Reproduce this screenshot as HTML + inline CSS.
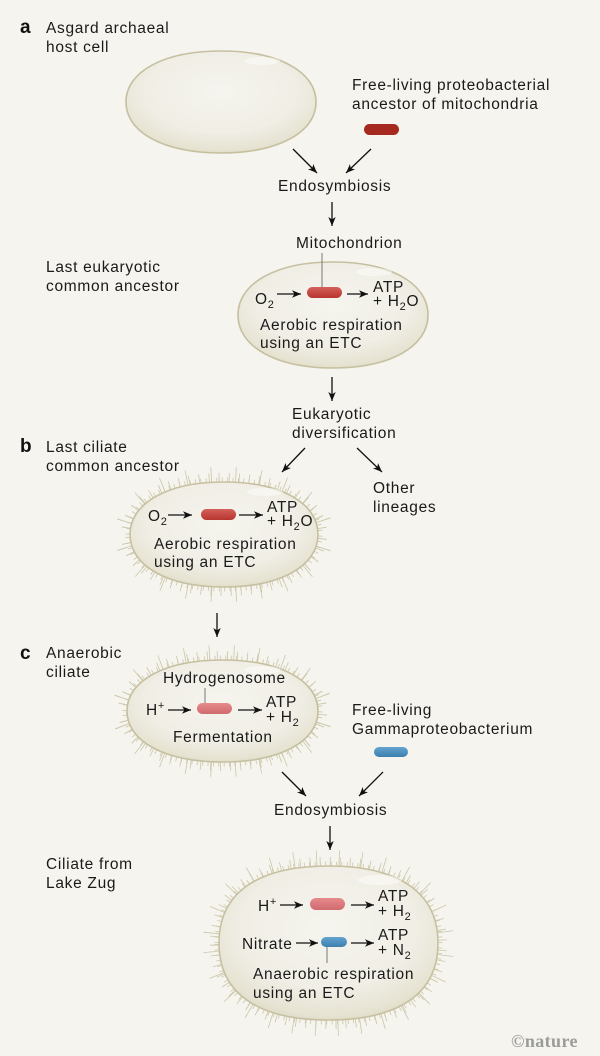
<!DOCTYPE html>
<html><head><meta charset="utf-8"><style>
html,body{margin:0;padding:0;background:#f5f4ee;}
svg{display:block;}
text{font-family:"Liberation Sans",sans-serif;font-size:15.5px;letter-spacing:0.7px;fill:#1a1a1a;}
.lbl{font-weight:bold;font-size:19px;letter-spacing:0;fill:#111;}
</style></head><body>
<svg width="600" height="1056" viewBox="0 0 600 1056" xmlns="http://www.w3.org/2000/svg">
<defs>
  <marker id="ah" markerUnits="userSpaceOnUse" markerWidth="10" markerHeight="9" refX="9" refY="4.5" orient="auto">
    <path d="M0,0.8 L9,4.5 L0,8.2 L2.4,4.5 Z" fill="#111"/>
  </marker>
  <radialGradient id="body" cx="50%" cy="40%" r="62%">
    <stop offset="0" stop-color="#f5f4ee"/>
    <stop offset="0.65" stop-color="#f0eee5"/>
    <stop offset="0.92" stop-color="#e6e3d2"/>
    <stop offset="1" stop-color="#dedac5"/>
  </radialGradient>
  <linearGradient id="red" x1="0" y1="0" x2="0" y2="1">
    <stop offset="0" stop-color="#d4605a"/><stop offset="1" stop-color="#b8352f"/>
  </linearGradient>
  <linearGradient id="pink" x1="0" y1="0" x2="0" y2="1">
    <stop offset="0" stop-color="#e68a8c"/><stop offset="1" stop-color="#d06a6f"/>
  </linearGradient>
  <linearGradient id="blue" x1="0" y1="0" x2="0" y2="1">
    <stop offset="0" stop-color="#63a3cf"/><stop offset="1" stop-color="#3d7fae"/>
  </linearGradient>
  <path id="c1" d="M126,102 C126,71.4 164,51 221,51 C278,51 316,71.4 316,102 C316,132.6 278,153 221,153 C164,153 126,132.6 126,102 Z"/>
  <path id="c2" d="M238,315 C238,283.2 276,262 333,262 C390,262 428,283.2 428,315 C428,346.8 390,368 333,368 C276,368 238,346.8 238,315 Z"/>
  <path id="c3" d="M130,534.5 C130,503 167.6,482 224,482 C280.4,482 318,503 318,534.5 C318,566 280.4,587 224,587 C167.6,587 130,566 130,534.5 Z"/>
  <path id="c4" d="M127,711 C127,680.4 165.2,660 222.5,660 C279.8,660 318,680.4 318,711 C318,741.6 279.8,762 222.5,762 C165.2,762 127,741.6 127,711 Z"/>
  <path id="c5" d="M219,943 C219,893 257.3,866 328.5,866 C399.7,866 438,893 438,943 C438,993 399.7,1020 328.5,1020 C257.3,1020 219,993 219,943 Z"/>
</defs>

<!-- cilia -->
<g fill="none" stroke="#ccc7aa">
  <use href="#c3" stroke-width="9" stroke-dasharray="0.8 4.5"/>
  <use href="#c3" stroke-width="18" stroke-dasharray="0.8 9" stroke-dashoffset="4"/>
  <use href="#c3" stroke-width="30" stroke-dasharray="0.8 23" stroke-dashoffset="13"/>
  <use href="#c4" stroke-width="9" stroke-dasharray="0.8 4.5"/>
  <use href="#c4" stroke-width="18" stroke-dasharray="0.8 9" stroke-dashoffset="4"/>
  <use href="#c4" stroke-width="30" stroke-dasharray="0.8 23" stroke-dashoffset="13"/>
  <use href="#c5" stroke-width="9" stroke-dasharray="0.8 4.5"/>
  <use href="#c5" stroke-width="18" stroke-dasharray="0.8 9" stroke-dashoffset="4"/>
  <use href="#c5" stroke-width="32" stroke-dasharray="0.8 21" stroke-dashoffset="13"/>
</g>

<!-- cell bodies -->
<g fill="url(#body)" stroke="#c6c0a0" stroke-width="1.6">
  <use href="#c1"/><use href="#c2"/><use href="#c3"/><use href="#c4"/><use href="#c5"/>
</g>
<!-- highlights -->
<g fill="#ffffff" opacity="0.45">
  <ellipse cx="262" cy="61" rx="18" ry="4"/>
  <ellipse cx="374" cy="272" rx="18" ry="4"/>
  <ellipse cx="265" cy="492" rx="18" ry="4"/>
  <ellipse cx="263" cy="670" rx="18" ry="4"/>
  <ellipse cx="380" cy="880" rx="22" ry="5"/>
</g>

<!-- labels -->
<text class="lbl" x="20" y="33">a</text>
<text class="lbl" x="20" y="452">b</text>
<text class="lbl" x="20" y="659">c</text>

<text x="46" y="33">Asgard archaeal</text>
<text x="46" y="52">host cell</text>
<text x="352" y="90">Free-living proteobacterial</text>
<text x="352" y="109">ancestor of mitochondria</text>
<rect x="364" y="124" width="35" height="11" rx="5.5" fill="#a5291f"/>

<g stroke="#111" stroke-width="1.3" fill="none" marker-end="url(#ah)">
  <line x1="293" y1="149" x2="317" y2="173"/>
  <line x1="371" y1="149" x2="346" y2="173"/>
  <line x1="332" y1="202" x2="332" y2="226"/>
  <line x1="332" y1="377" x2="332" y2="401"/>
  <line x1="305" y1="448" x2="282" y2="472"/>
  <line x1="357" y1="448" x2="382" y2="472"/>
  <line x1="217" y1="613" x2="217" y2="637"/>
  <line x1="282" y1="772" x2="306" y2="796"/>
  <line x1="383" y1="772" x2="359" y2="796"/>
  <line x1="330" y1="826" x2="330" y2="850"/>
  <!-- inline arrows -->
  <line x1="277" y1="294" x2="301" y2="294"/>
  <line x1="347" y1="294" x2="368" y2="294"/>
  <line x1="168" y1="515" x2="192" y2="515"/>
  <line x1="239" y1="515" x2="263" y2="515"/>
  <line x1="168" y1="710" x2="191" y2="710"/>
  <line x1="238" y1="710" x2="262" y2="710"/>
  <line x1="280" y1="905" x2="303" y2="905"/>
  <line x1="351" y1="905" x2="374" y2="905"/>
  <line x1="296" y1="943" x2="318" y2="943"/>
  <line x1="351" y1="943" x2="374" y2="943"/>
</g>

<text x="278" y="191">Endosymbiosis</text>
<text x="296" y="248">Mitochondrion</text>

<text x="46" y="272">Last eukaryotic</text>
<text x="46" y="291">common ancestor</text>

<!-- LECA cell content -->
<line x1="322" y1="253" x2="322" y2="288" stroke="#777" stroke-width="1"/>
<rect x="307" y="287" width="35" height="11" rx="5.5" fill="url(#red)"/>
<text x="255" y="304">O<tspan font-size="11" dy="4">2</tspan></text>
<text x="373" y="292">ATP</text>
<text x="373" y="306">+ H<tspan font-size="11" dy="4">2</tspan><tspan dy="-4">O</tspan></text>
<text x="260" y="330">Aerobic respiration</text>
<text x="260" y="348">using an ETC</text>

<text x="292" y="419">Eukaryotic</text>
<text x="292" y="438">diversification</text>

<text x="46" y="452">Last ciliate</text>
<text x="46" y="471">common ancestor</text>
<text x="373" y="493">Other</text>
<text x="373" y="512">lineages</text>

<!-- LCCA cell -->
<rect x="201" y="509" width="35" height="11" rx="5.5" fill="url(#red)"/>
<text x="148" y="521">O<tspan font-size="11" dy="4">2</tspan></text>
<text x="267" y="512">ATP</text>
<text x="267" y="526">+ H<tspan font-size="11" dy="4">2</tspan><tspan dy="-4">O</tspan></text>
<text x="154" y="549">Aerobic respiration</text>
<text x="154" y="567">using an ETC</text>

<text x="46" y="658">Anaerobic</text>
<text x="46" y="677">ciliate</text>

<!-- anaerobic ciliate -->
<text x="163" y="683">Hydrogenosome</text>
<line x1="205" y1="688" x2="205" y2="704" stroke="#777" stroke-width="1"/>
<rect x="197" y="703" width="35" height="11" rx="5.5" fill="url(#pink)"/>
<text x="146" y="715">H<tspan font-size="11" dy="-6">+</tspan></text>
<text x="266" y="707">ATP</text>
<text x="266" y="722">+ H<tspan font-size="11" dy="4">2</tspan></text>
<text x="173" y="742">Fermentation</text>

<text x="352" y="715">Free-living</text>
<text x="352" y="734">Gammaproteobacterium</text>
<rect x="374" y="747" width="34" height="10" rx="5" fill="url(#blue)"/>

<text x="274" y="815">Endosymbiosis</text>

<text x="46" y="869">Ciliate from</text>
<text x="46" y="888">Lake Zug</text>

<!-- Lake Zug ciliate -->
<rect x="310" y="898" width="35" height="12" rx="6" fill="url(#pink)"/>
<text x="258" y="911">H<tspan font-size="11" dy="-6">+</tspan></text>
<text x="378" y="901">ATP</text>
<text x="378" y="916">+ H<tspan font-size="11" dy="4">2</tspan></text>
<text x="242" y="949">Nitrate</text>
<line x1="327" y1="946" x2="327" y2="963" stroke="#777" stroke-width="1"/>
<rect x="321" y="937" width="26" height="10" rx="5" fill="url(#blue)"/>
<text x="378" y="940">ATP</text>
<text x="378" y="955">+ N<tspan font-size="11" dy="4">2</tspan></text>
<text x="253" y="979">Anaerobic respiration</text>
<text x="253" y="998">using an ETC</text>

<text x="511" y="1047" style="font-family:'Liberation Serif',serif;font-weight:bold;font-size:18px;letter-spacing:0.4px;fill:#9b9b9b;">©nature</text>
</svg>
</body></html>
